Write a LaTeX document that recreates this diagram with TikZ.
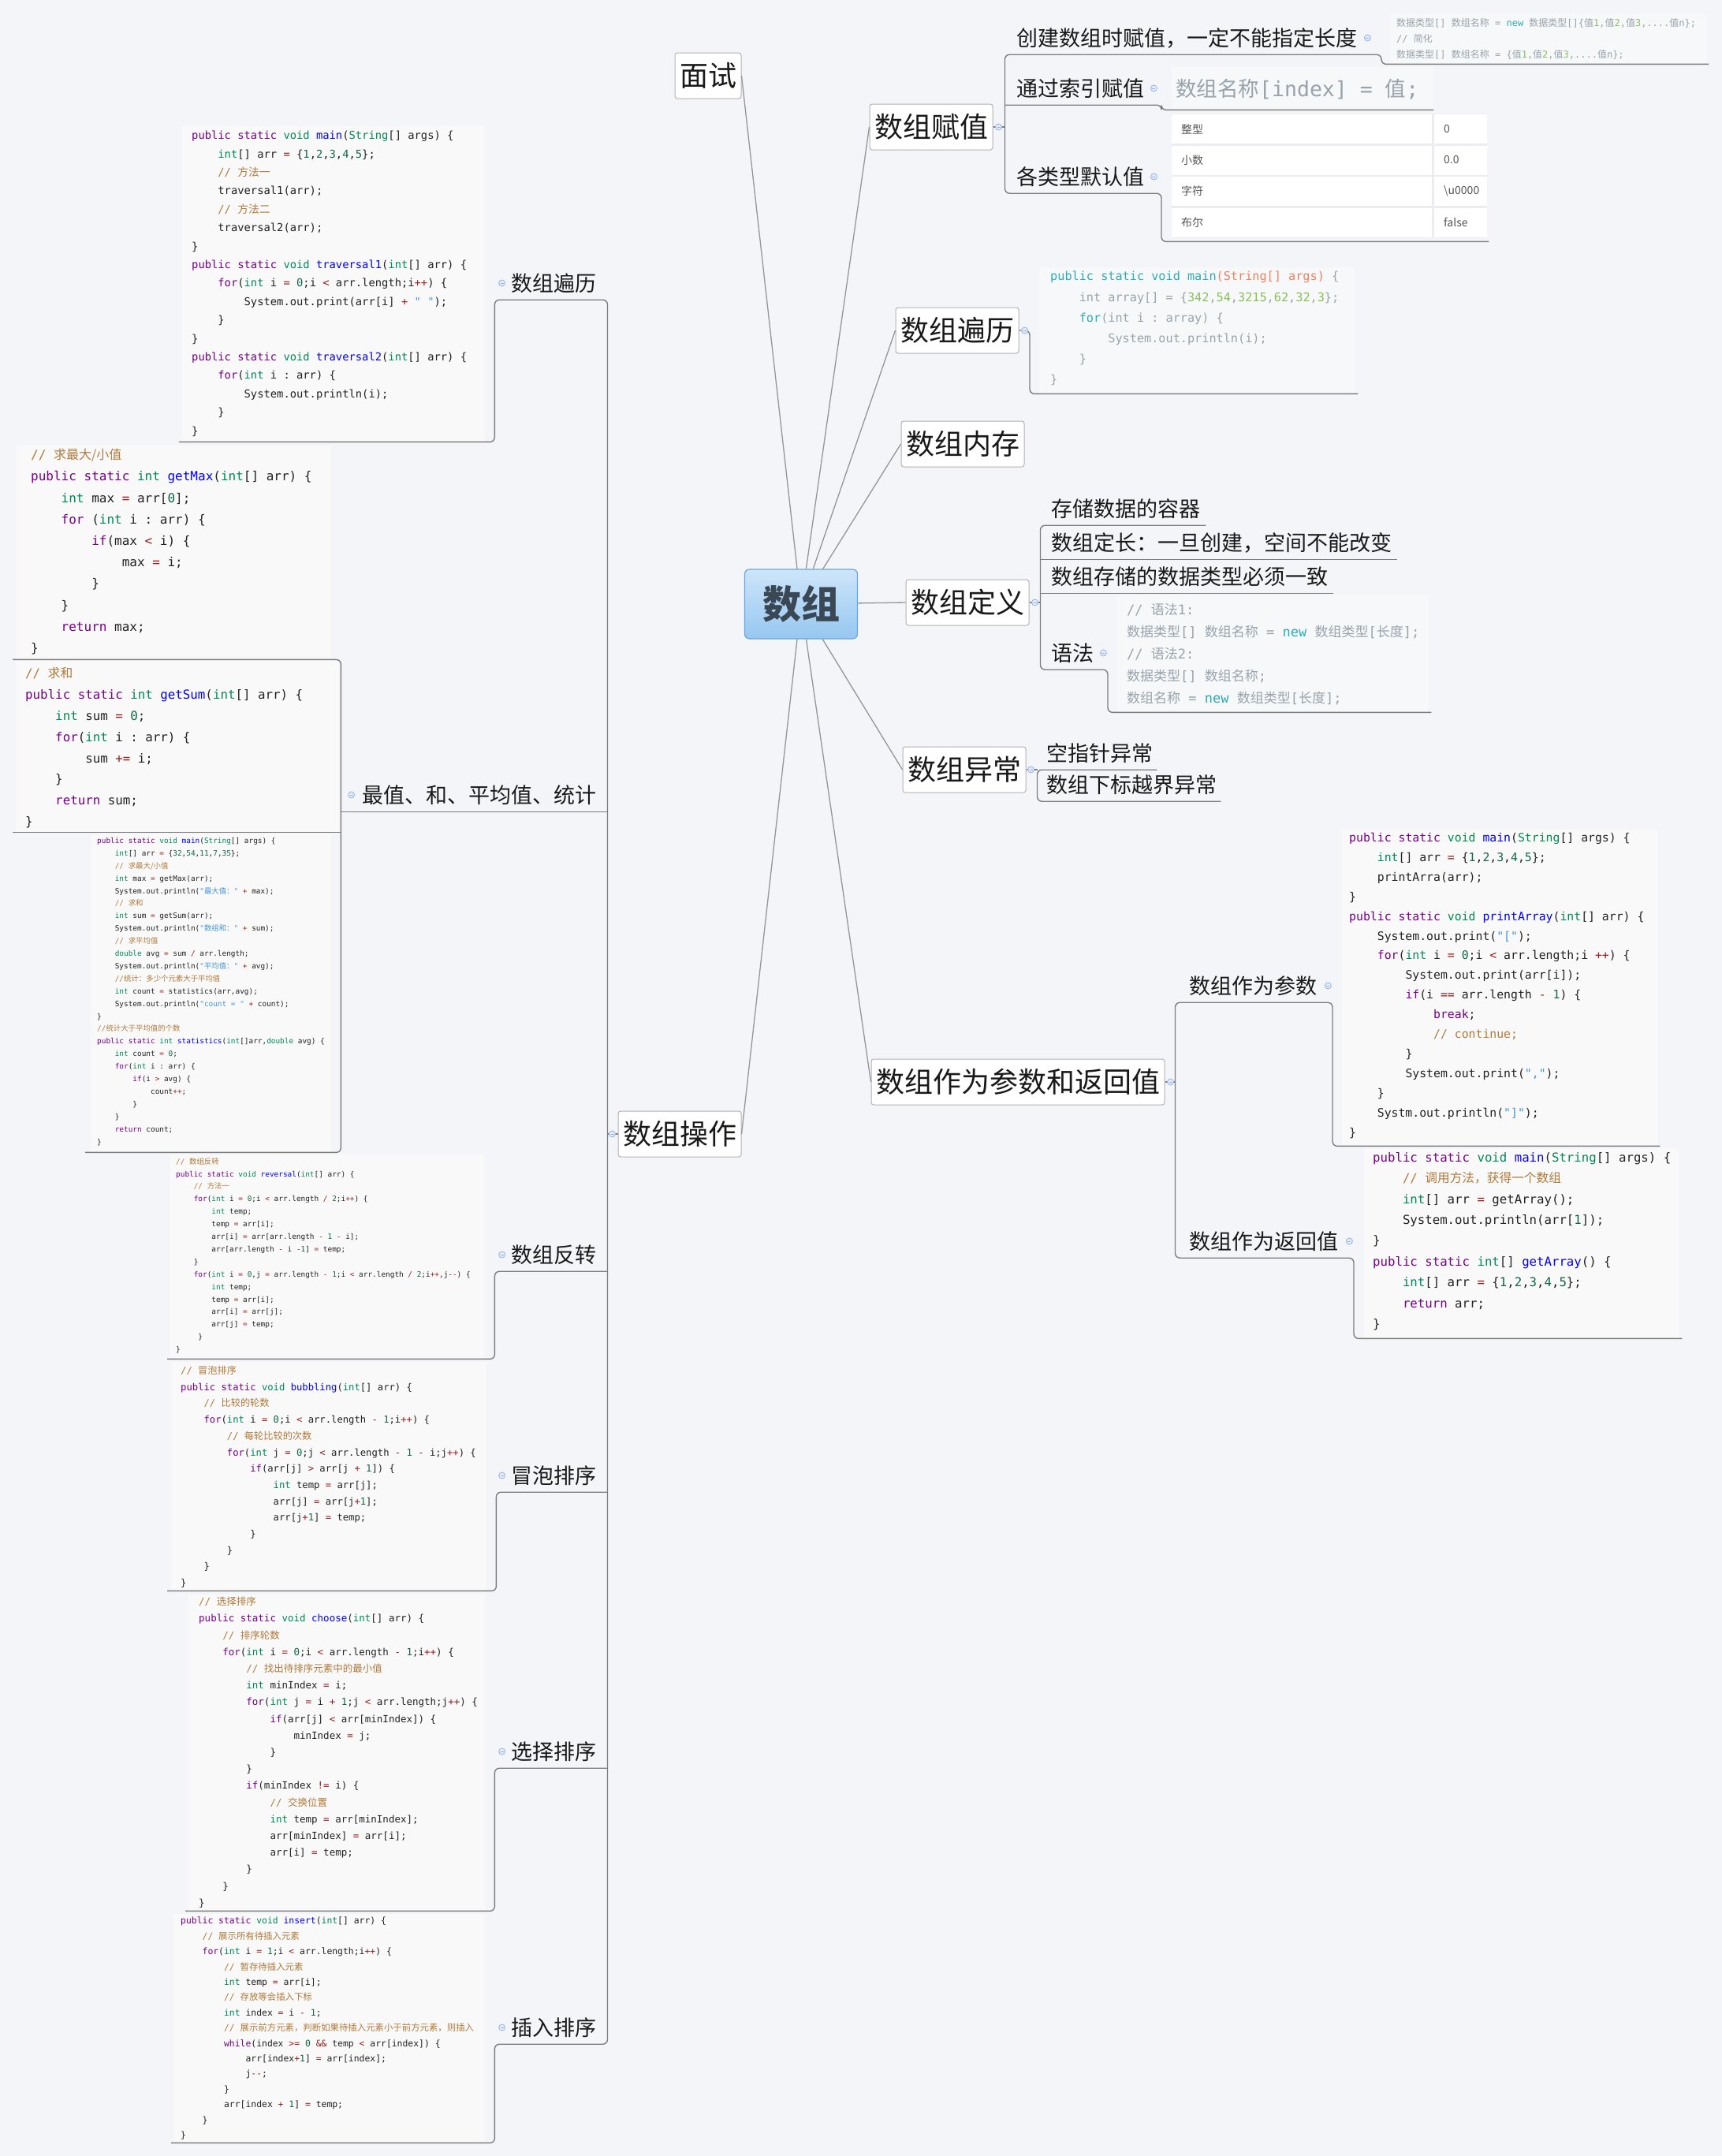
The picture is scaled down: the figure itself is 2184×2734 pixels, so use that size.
\documentclass[tikz,border=0pt]{standalone}
\usepackage{fontspec}
\setmainfont{Noto Sans CJK SC}
\setmonofont{DejaVu Sans Mono}
\newfontfamily\zhfont{Noto Sans CJK SC}

\definecolor{pagebg}{RGB}{243,245,249}
\definecolor{codebg}{RGB}{249,249,250}
\definecolor{graybg}{RGB}{246,248,250}
\definecolor{tblsep}{RGB}{236,237,240}
\definecolor{connc}{RGB}{125,125,125}
\definecolor{rootln}{RGB}{150,150,150}
\definecolor{boxln}{RGB}{178,178,178}
\definecolor{rootA}{RGB}{206,229,250}
\definecolor{rootB}{RGB}{150,199,240}
\definecolor{rootbd}{RGB}{105,165,222}
\definecolor{roottx}{RGB}{58,72,86}
\definecolor{labtx}{RGB}{25,25,25}
\definecolor{mkline}{RGB}{150,180,222}
\definecolor{mkfill}{RGB}{226,236,250}
\definecolor{codetx}{RGB}{34,34,34}
\definecolor{jkc}{RGB}{119,0,136}
\definecolor{jtc}{RGB}{0,136,85}
\definecolor{jfc}{RGB}{0,0,255}
\definecolor{jcc}{RGB}{176,122,58}
\definecolor{jnc}{RGB}{17,102,68}
\definecolor{joc}{RGB}{152,26,26}
\definecolor{jsc}{RGB}{70,150,210}
\definecolor{grtx}{RGB}{152,163,172}
\definecolor{grk}{RGB}{46,170,182}
\definecolor{gro}{RGB}{240,128,96}
\definecolor{grn}{RGB}{140,190,90}
\definecolor{tbltx}{RGB}{85,85,85}

\newcommand\zh[1]{{\zhfont #1}}
\newcommand\ind[1]{\hspace*{#1\fontcharwd\font`0}}
\newcommand\codefont[2]{\ttfamily\fontsize{#1}{#2}\selectfont}
\newcommand\jk[1]{\textcolor{jkc}{#1}}
\newcommand\jt[1]{\textcolor{jtc}{#1}}
\newcommand\jf[1]{\textcolor{jfc}{#1}}
\newcommand\jc[1]{\textcolor{jcc}{#1}}
\newcommand\jn[1]{\textcolor{jnc}{#1}}
\newcommand\jo[1]{\textcolor{joc}{#1}}
\newcommand\js[1]{\textcolor{jsc}{#1}}
\newcommand\xk[1]{\textcolor{grk}{#1}}
\newcommand\xo[1]{\textcolor{gro}{#1}}
\newcommand\xn[1]{\textcolor{grn}{#1}}

\tikzset{
  root/.style={draw=rootbd, line width=1.2pt, top color=rootA, bottom color=rootB,
    rounded corners=6pt, minimum width=143pt, minimum height=88pt, text=roottx,
    font=\bfseries\fontsize{49}{54}\selectfont},
  branch/.style={draw=boxln, line width=1pt, fill=white, rounded corners=3pt,
    inner xsep=6pt, minimum height=58pt, text=labtx, font=\fontsize{36}{40}\selectfont},
  sub/.style={inner sep=0pt, text depth=11pt, text=labtx, font=\fontsize{27}{30}\selectfont},
  codebox/.style={fill=codebg, inner sep=0pt, anchor=north west},
  code/.style={anchor=north west, inner sep=0pt, align=left, text=codetx},
  tbltxt/.style={anchor=west, inner sep=0pt, text=tbltx, font=\fontsize{14}{16}\selectfont},
  conn/.style={draw=connc, line width=1.4pt},
  marker/.style={circle, draw=mkline, fill=mkfill, minimum size=8pt, inner sep=0pt,
    line width=0.8pt, path picture={\draw[mkline, line width=0.8pt]
      ([xshift=-2pt]path picture bounding box.center) --
      ([xshift=2pt]path picture bounding box.center);}},
}

\begin{document}
\begin{tikzpicture}[x=1pt, y=-1pt]
\useasboundingbox (0,0) rectangle (2184,2734);
\fill[pagebg] (0,0) rectangle (2184,2734);

% root and main branches
\node[root] (root) at (1016,766) {数组};
\node[branch] (mianshi) at (898,96) {面试};
\node[branch] (fuzhi) at (1181,161) {数组赋值};
\node[branch] (bianliR) at (1214,419) {数组遍历};
\node[branch] (neicun) at (1221,563) {数组内存};
\node[branch] (dingyi) at (1227,764) {数组定义};
\node[branch] (yichang) at (1223,976) {数组异常};
\node[branch] (canshu) at (1291,1372) {数组作为参数和返回值};
\node[branch] (caozuo) at (862,1438) {数组操作};

\begin{scope}[every edge/.style={draw=rootln, line width=1.3pt}]
  \path (root) edge (mianshi.east);
  \path (root) edge (fuzhi.west);
  \path (root) edge (bianliR.west);
  \path (root) edge (neicun.west);
  \path (root) edge (dingyi.west);
  \path (root) edge (yichang.west);
  \path (root) edge (canshu.west);
  \path (root) edge (caozuo.east);
\end{scope}

% ---- 数组赋值
\node[sub, anchor=base west] (fz1) at (1289,58) {创建数组时赋值，一定不能指定长度};
\node[sub, anchor=base west] (fz2) at (1289,122) {通过索引赋值};
\node[sub, anchor=base west] (fz3) at (1289,234) {各类型默认值};
\node[codebox, fill=graybg, minimum width=401pt, minimum height=64pt] (createBox) at (1763,17) {};
\node[code, text=grtx, font={\codefont{12}{20}}] (createCode) at (1771,23)
  {\zh{数据类型}[] \zh{数组名称} = \xk{new} \zh{数据类型}[]\{\zh{值}\xn{1},\zh{值}\xn{2},\zh{值}\xn{3},....\zh{值}n\};\\
   // \zh{简化}\\
   \zh{数据类型}[] \zh{数组名称} = \{\zh{值}\xn{1},\zh{值}\xn{2},\zh{值}\xn{3},....\zh{值}n\};};
\node[codebox, fill=graybg, minimum width=332pt, minimum height=54pt] (idxBox) at (1486,85) {};
\node[code, text=grtx, font={\codefont{26.5}{30}}] (idxCode) at (1491,100)
  {\zh{数组名称}[index] = \zh{值};};
\node[inner sep=0pt, anchor=north west, minimum width=400pt, minimum height=162pt] (tbl) at (1486,144) {};
\fill[tblsep] (1486,144) rectangle (1886,302);
\foreach \r in {0,...,3} {
  \fill[white] (1486,{145+\r*39.5}) rectangle (1816,{182+\r*39.5});
  \fill[white] (1819,{145+\r*39.5}) rectangle (1886,{182+\r*39.5});
}
\foreach \r/\a/\b in {0/整型/0, 1/小数/0.0, 2/字符/\textbackslash u0000, 3/布尔/false} {
  \node[tbltxt] (tk\r) at (1498,{163.5+\r*39.5}) {\a};
  \node[tbltxt] (tv\r) at (1831,{163.5+\r*39.5}) {\b};
}
\coordinate (fzS) at ([xshift=15pt]fuzhi.east);
\coordinate (createStep) at ([xshift=-11pt]createBox.south west);
\coordinate (idxStep) at ([xshift=-13pt]idxBox.south west);
\coordinate (tblStep) at ([xshift=-13pt]tbl.south west);
\draw[conn] (fuzhi.east) -- (fzS |- fuzhi.east);
\draw[conn, rounded corners=6pt] ([xshift=3pt]createBox.south east) -- (createStep)
  -- (createStep |- fz1.south) -- (fzS |- fz1.south) -- (fzS |- fz3.south)
  -- (tblStep |- fz3.south) -- (tblStep) -- ([xshift=2pt]tbl.south east);
\draw[conn, rounded corners=6pt] (fzS |- fz2.south) -- (idxStep |- fz2.south)
  -- (idxStep) -- (idxBox.south east);

% ---- 数组遍历 (right)
\node[codebox, fill=graybg, minimum width=400pt, minimum height=160pt] (travRBox) at (1318,339) {};
\node[code, text=grtx, font={\codefont{15.2}{26.2}}] (travRCode) at (1332,344)
  {\xk{public static void main}\xo{(String[] args)} \{\\
   \ind{4}int array[] = \{\xn{342},\xn{54},\xn{3215},\xn{62},\xn{32},\xn{3}\};\\
   \ind{4}\xk{for}(int i : array) \{\\
   \ind{8}System.out.println(i);\\
   \ind{4}\}\\
   \}};
\coordinate (trStep) at ([xshift=-12pt]travRBox.south west);
\draw[conn, rounded corners=6pt] (bianliR.east) -- (trStep |- bianliR.east) -- (trStep)
  -- ([xshift=4pt]travRBox.south east);

% ---- 数组定义
\node[sub, anchor=base west] (dy1) at (1333,655) {存储数据的容器};
\node[sub, anchor=base west] (dy2) at (1333,698) {数组定长：一旦创建，空间不能改变};
\node[sub, anchor=base west] (dy3) at (1333,741) {数组存储的数据类型必须一致};
\node[sub, anchor=base west] (dy4) at (1333,838) {语法};
\node[codebox, fill=graybg, minimum width=395pt, minimum height=148pt] (yufaBox) at (1417,755) {};
\node[code, text=grtx, font={\codefont{17}{28}}] (yufaCode) at (1429,765)
  {// \zh{语法}1:\\
   \zh{数据类型}[] \zh{数组名称} = \xk{new} \zh{数组类型}[\zh{长度}];\\
   // \zh{语法}2:\\
   \zh{数据类型}[] \zh{数组名称};\\
   \zh{数组名称} = \xk{new} \zh{数组类型}[\zh{长度}];};
\coordinate (dyS) at ([xshift=14pt]dingyi.east);
\coordinate (yfStep) at ([xshift=-12pt]yufaBox.south west);
\draw[conn] (dingyi.east) -- (dyS |- dingyi.east);
\draw[conn, rounded corners=6pt] ([xshift=7pt]dy1.south east) -- (dyS |- dy1.south)
  -- (dyS |- dy4.south) -- (yfStep |- dy4.south) -- (yfStep) -- ([xshift=3pt]yufaBox.south east);
\draw[conn] (dyS |- dy2.south) -- ([xshift=7pt]dy2.south east);
\draw[conn] (dyS |- dy3.south) -- ([xshift=7pt]dy3.south east);

% ---- 数组异常
\node[sub, anchor=base west] (yc1) at (1327,965) {空指针异常};
\node[sub, anchor=base west] (yc2) at (1327,1005) {数组下标越界异常};
\coordinate (ycS) at ([xshift=14pt]yichang.east);
\draw[conn] (yichang.east) -- (ycS |- yichang.east);
\draw[conn, rounded corners=6pt] ([xshift=5pt]yc1.south east) -- (ycS |- yc1.south)
  -- (ycS |- yc2.south) -- ([xshift=5pt]yc2.south east);

% ---- 数组作为参数和返回值
\node[sub, anchor=base west] (cs1) at (1508,1260) {数组作为参数};
\node[sub, anchor=base west] (cs2) at (1508,1584) {数组作为返回值};
\node[codebox, minimum width=400pt, minimum height=401pt] (p1Box) at (1702,1052) {};
\node[code, font={\codefont{14.8}{24.9}}] (p1Code) at (1711,1056)
  {\jk{public} \jk{static} \jt{void} \jf{main}(\jt{String}[] args) \{\\
   \ind{4}\jt{int}[] arr \jo{=} \{\jn{1},\jn{2},\jn{3},\jn{4},\jn{5}\};\\
   \ind{4}printArra(arr);\\
   \}\\
   \jk{public} \jk{static} \jt{void} \jf{printArray}(\jt{int}[] arr) \{\\
   \ind{4}System.out.print(\js{"["});\\
   \ind{4}\jk{for}(\jt{int} i \jo{=} \jn{0};i \jo{<} arr.length;i \jo{++}) \{\\
   \ind{8}System.out.print(arr[i]);\\
   \ind{8}\jk{if}(i \jo{==} arr.length \jo{-} \jn{1}) \{\\
   \ind{12}\jk{break};\\
   \ind{12}\jc{// continue;}\\
   \ind{8}\}\\
   \ind{8}System.out.print(\js{","});\\
   \ind{4}\}\\
   \ind{4}Systm.out.println(\js{"]"});\\
   \}};
\node[codebox, minimum width=399pt, minimum height=241pt] (p2Box) at (1730,1456) {};
\node[code, font={\codefont{15.7}{26.4}}] (p2Code) at (1741,1461)
  {\jk{public} \jk{static} \jt{void} \jf{main}(\jt{String}[] args) \{\\
   \ind{4}\jc{// \zh{调用方法，获得一个数组}}\\
   \ind{4}\jt{int}[] arr \jo{=} getArray();\\
   \ind{4}System.out.println(arr[\jn{1}]);\\
   \}\\
   \jk{public} \jk{static} \jt{int}[] \jf{getArray}() \{\\
   \ind{4}\jt{int}[] arr \jo{=} \{\jn{1},\jn{2},\jn{3},\jn{4},\jn{5}\};\\
   \ind{4}\jk{return} arr;\\
   \}};
\coordinate (csS) at ([xshift=13pt]canshu.east);
\coordinate (p1Step) at ([xshift=-12pt]p1Box.south west);
\coordinate (p2Step) at ([xshift=-13pt]p2Box.south west);
\draw[conn] (canshu.east) -- (csS |- canshu.east);
\draw[conn, rounded corners=6pt] ([xshift=3pt]p1Box.south east) -- (p1Step) -- (p1Step |- cs1.south)
  -- (csS |- cs1.south) -- (csS |- cs2.south) -- (p2Step |- cs2.south) -- (p2Step)
  -- ([xshift=4pt]p2Box.south east);

% ---- 数组操作 (left)
\node[sub, anchor=base east] (op1) at (757,369) {数组遍历};
\node[sub, anchor=base east] (op2) at (757,1018) {最值、和、平均值、统计};
\node[sub, anchor=base east] (op3) at (757,1601) {数组反转};
\node[sub, anchor=base east] (op4) at (757,1881) {冒泡排序};
\node[sub, anchor=base east] (op5) at (757,2231) {选择排序};
\node[sub, anchor=base east] (op6) at (757,2581) {插入排序};

\node[codebox, minimum width=385pt, minimum height=400pt] (travLBox) at (230,160) {};
\node[code, font={\codefont{13.8}{23.4}}] (travLCode) at (243,166)
  {\jk{public} \jk{static} \jt{void} \jf{main}(\jt{String}[] args) \{\\
   \ind{4}\jt{int}[] arr \jo{=} \{\jn{1},\jn{2},\jn{3},\jn{4},\jn{5}\};\\
   \ind{4}\jc{// \zh{方法一}}\\
   \ind{4}traversal1(arr);\\
   \ind{4}\jc{// \zh{方法二}}\\
   \ind{4}traversal2(arr);\\
   \}\\
   \jk{public} \jk{static} \jt{void} \jf{traversal1}(\jt{int}[] arr) \{\\
   \ind{4}\jk{for}(\jt{int} i \jo{=} \jn{0};i \jo{<} arr.length;i\jo{++}) \{\\
   \ind{8}System.out.print(arr[i] \jo{+} \js{" "});\\
   \ind{4}\}\\
   \}\\
   \jk{public} \jk{static} \jt{void} \jf{traversal2}(\jt{int}[] arr) \{\\
   \ind{4}\jk{for}(\jt{int} i : arr) \{\\
   \ind{8}System.out.println(i);\\
   \ind{4}\}\\
   \}};

\node[codebox, minimum width=400pt, minimum height=271pt] (maxBox) at (20,565) {};
\node[code, font={\codefont{16}{27.2}}] (maxCode) at (39,569)
  {\jc{// \zh{求最大/小值}}\\
   \jk{public} \jk{static} \jt{int} \jf{getMax}(\jt{int}[] arr) \{\\
   \ind{4}\jt{int} max \jo{=} arr[\jn{0}];\\
   \ind{4}\jk{for} (\jt{int} i : arr) \{\\
   \ind{8}\jk{if}(max \jo{<} i) \{\\
   \ind{12}max \jo{=} i;\\
   \ind{8}\}\\
   \ind{4}\}\\
   \ind{4}\jk{return} max;\\
   \}};
\node[codebox, minimum width=410pt, minimum height=217pt] (sumBox) at (20,838) {};
\node[code, font={\codefont{15.8}{26.9}}] (sumCode) at (32,846)
  {\jc{// \zh{求和}}\\
   \jk{public} \jk{static} \jt{int} \jf{getSum}(\jt{int}[] arr) \{\\
   \ind{4}\jt{int} sum \jo{=} \jn{0};\\
   \ind{4}\jk{for}(\jt{int} i : arr) \{\\
   \ind{8}sum \jo{+=} i;\\
   \ind{4}\}\\
   \ind{4}\jk{return} sum;\\
   \}};
\node[codebox, minimum width=305pt, minimum height=404pt] (statBox) at (115,1057) {};
\node[code, font={\codefont{9.4}{15.9}}] (statCode) at (123,1062)
  {\jk{public} \jk{static} \jt{void} \jf{main}(\jt{String}[] args) \{\\
   \ind{4}\jt{int}[] arr \jo{=} \{\jn{32},\jn{54},\jn{11},\jn{7},\jn{35}\};\\
   \ind{4}\jc{// \zh{求最大/小值}}\\
   \ind{4}\jt{int} max \jo{=} getMax(arr);\\
   \ind{4}System.out.println(\js{"\zh{最大值：}"} \jo{+} max);\\
   \ind{4}\jc{// \zh{求和}}\\
   \ind{4}\jt{int} sum \jo{=} getSum(arr);\\
   \ind{4}System.out.println(\js{"\zh{数组和：}"} \jo{+} sum);\\
   \ind{4}\jc{// \zh{求平均值}}\\
   \ind{4}\jt{double} avg \jo{=} sum \jo{/} arr.length;\\
   \ind{4}System.out.println(\js{"\zh{平均值：}"} \jo{+} avg);\\
   \ind{4}\jc{//\zh{统计：多少个元素大于平均值}}\\
   \ind{4}\jt{int} count \jo{=} statistics(arr,avg);\\
   \ind{4}System.out.println(\js{"count = "} \jo{+} count);\\
   \}\\
   \jc{//\zh{统计大于平均值的个数}}\\
   \jk{public} \jk{static} \jt{int} \jf{statistics}(\jt{int}[]arr,\jt{double} avg) \{\\
   \ind{4}\jt{int} count \jo{=} \jn{0};\\
   \ind{4}\jk{for}(\jt{int} i : arr) \{\\
   \ind{8}\jk{if}(i \jo{>} avg) \{\\
   \ind{12}count\jo{++};\\
   \ind{8}\}\\
   \ind{4}\}\\
   \ind{4}\jk{return} count;\\
   \}};

\node[codebox, minimum width=400pt, minimum height=259pt] (revBox) at (215,1464) {};
\node[code, font={\codefont{9.4}{15.9}}] (revCode) at (223,1468)
  {\jc{// \zh{数组反转}}\\
   \jk{public} \jk{static} \jt{void} \jf{reversal}(\jt{int}[] arr) \{\\
   \ind{4}\jc{// \zh{方法一}}\\
   \ind{4}\jk{for}(\jt{int} i \jo{=} \jn{0};i \jo{<} arr.length \jo{/} \jn{2};i\jo{++}) \{\\
   \ind{8}\jt{int} temp;\\
   \ind{8}temp \jo{=} arr[i];\\
   \ind{8}arr[i] \jo{=} arr[arr.length \jo{-} \jn{1} \jo{-} i];\\
   \ind{8}arr[arr.length \jo{-} i \jo{-}\jn{1}] \jo{=} temp;\\
   \ind{4}\}\\
   \ind{4}\jk{for}(\jt{int} i \jo{=} \jn{0},j \jo{=} arr.length \jo{-} \jn{1};i \jo{<} arr.length \jo{/} \jn{2};i\jo{++},j\jo{--}) \{\\
   \ind{8}\jt{int} temp;\\
   \ind{8}temp \jo{=} arr[i];\\
   \ind{8}arr[i] \jo{=} arr[j];\\
   \ind{8}arr[j] \jo{=} temp;\\
   \ind{5}\}\\
   \}};

\node[codebox, minimum width=400pt, minimum height=290pt] (bubBox) at (217,1727) {};
\node[code, font={\codefont{12.2}{20.7}}] (bubCode) at (229,1732)
  {\jc{// \zh{冒泡排序}}\\
   \jk{public} \jk{static} \jt{void} \jf{bubbling}(\jt{int}[] arr) \{\\
   \ind{4}\jc{// \zh{比较的轮数}}\\
   \ind{4}\jk{for}(\jt{int} i \jo{=} \jn{0};i \jo{<} arr.length \jo{-} \jn{1};i\jo{++}) \{\\
   \ind{8}\jc{// \zh{每轮比较的次数}}\\
   \ind{8}\jk{for}(\jt{int} j \jo{=} \jn{0};j \jo{<} arr.length \jo{-} \jn{1} \jo{-} i;j\jo{++}) \{\\
   \ind{12}\jk{if}(arr[j] \jo{>} arr[j \jo{+} \jn{1}]) \{\\
   \ind{16}\jt{int} temp \jo{=} arr[j];\\
   \ind{16}arr[j] \jo{=} arr[j\jo{+}\jn{1}];\\
   \ind{16}arr[j\jo{+}\jn{1}] \jo{=} temp;\\
   \ind{12}\}\\
   \ind{8}\}\\
   \ind{4}\}\\
   \}};

\node[codebox, minimum width=376pt, minimum height=401pt] (choBox) at (239,2022) {};
\node[code, font={\codefont{12.5}{21.2}}] (choCode) at (252,2025)
  {\jc{// \zh{选择排序}}\\
   \jk{public} \jk{static} \jt{void} \jf{choose}(\jt{int}[] arr) \{\\
   \ind{4}\jc{// \zh{排序轮数}}\\
   \ind{4}\jk{for}(\jt{int} i \jo{=} \jn{0};i \jo{<} arr.length \jo{-} \jn{1};i\jo{++}) \{\\
   \ind{8}\jc{// \zh{找出待排序元素中的最小值}}\\
   \ind{8}\jt{int} minIndex \jo{=} i;\\
   \ind{8}\jk{for}(\jt{int} j \jo{=} i \jo{+} \jn{1};j \jo{<} arr.length;j\jo{++}) \{\\
   \ind{12}\jk{if}(arr[j] \jo{<} arr[minIndex]) \{\\
   \ind{16}minIndex \jo{=} j;\\
   \ind{12}\}\\
   \ind{8}\}\\
   \ind{8}\jk{if}(minIndex \jo{!=} i) \{\\
   \ind{12}\jc{// \zh{交换位置}}\\
   \ind{12}\jt{int} temp \jo{=} arr[minIndex];\\
   \ind{12}arr[minIndex] \jo{=} arr[i];\\
   \ind{12}arr[i] \jo{=} temp;\\
   \ind{8}\}\\
   \ind{4}\}\\
   \}};

\node[codebox, minimum width=395pt, minimum height=290pt] (insBox) at (220,2427) {};
\node[code, font={\codefont{11.4}{19.4}}] (insCode) at (229,2431)
  {\jk{public} \jk{static} \jt{void} \jf{insert}(\jt{int}[] arr) \{\\
   \ind{4}\jc{// \zh{展示所有待插入元素}}\\
   \ind{4}\jk{for}(\jt{int} i \jo{=} \jn{1};i \jo{<} arr.length;i\jo{++}) \{\\
   \ind{8}\jc{// \zh{暂存待插入元素}}\\
   \ind{8}\jt{int} temp \jo{=} arr[i];\\
   \ind{8}\jc{// \zh{存放等会插入下标}}\\
   \ind{8}\jt{int} index \jo{=} i \jo{-} \jn{1};\\
   \ind{8}\jc{// \zh{展示前方元素，判断如果待插入元素小于前方元素，则插入}}\\
   \ind{8}\jk{while}(index \jo{>=} \jn{0} \jo{\&\&} temp \jo{<} arr[index]) \{\\
   \ind{12}arr[index\jo{+}\jn{1}] \jo{=} arr[index];\\
   \ind{12}j\jo{--};\\
   \ind{8}\}\\
   \ind{8}arr[index \jo{+} \jn{1}] \jo{=} temp;\\
   \ind{4}\}\\
   \}};

\coordinate (opS) at ([xshift=-13pt]caozuo.west);
\coordinate (zS) at ([xshift=12pt]maxBox.south east);
\coordinate (tlStep) at ([xshift=12pt]travLBox.south east);
\coordinate (revStep) at ([xshift=12pt]revBox.south east);
\coordinate (bubStep) at ([xshift=12pt]bubBox.south east);
\coordinate (choStep) at ([xshift=12pt]choBox.south east);
\coordinate (insStep) at ([xshift=12pt]insBox.south east);
\draw[conn] (caozuo.west) -- (opS |- caozuo.west);
\draw[conn, rounded corners=6pt] ([xshift=-3pt]travLBox.south west) -- (tlStep) -- (tlStep |- op1.south)
  -- (opS |- op1.south) -- (opS |- op6.south) -- (insStep |- op6.south) -- (insStep)
  -- ([xshift=-3pt]insBox.south west);
\draw[conn] (opS |- op2.south) -- (zS |- op2.south);
\draw[conn, rounded corners=6pt] ([xshift=-4pt]maxBox.south west) -- (zS) -- (zS |- statBox.south)
  -- ([xshift=-7pt]statBox.south west);
\draw[conn] ([xshift=-4pt]sumBox.south west) -- (zS |- sumBox.south);
\draw[conn, rounded corners=6pt] (opS |- op3.south) -- (revStep |- op3.south) -- (revStep)
  -- ([xshift=-3pt]revBox.south west);
\draw[conn, rounded corners=6pt] (opS |- op4.south) -- (bubStep |- op4.south) -- (bubStep)
  -- ([xshift=-5pt]bubBox.south west);
\draw[conn, rounded corners=6pt] (opS |- op5.south) -- (choStep |- op5.south) -- (choStep)
  -- ([xshift=-4pt]choBox.south west);

% collapse markers
\node[marker] (fuzhiM) at ([xshift=7pt]fuzhi.east) {};
\node[marker] (bianliRM) at ([xshift=7pt]bianliR.east) {};
\node[marker] (dingyiM) at ([xshift=7pt]dingyi.east) {};
\node[marker] (yichangM) at ([xshift=6pt]yichang.east) {};
\node[marker] (canshuM) at ([xshift=7pt]canshu.east) {};
\node[marker] (caozuoM) at ([xshift=-7pt]caozuo.west) {};
\node[marker] (fz1M) at ([shift={(13pt,10pt)}]fz1.base east) {};
\node[marker] (fz2M) at ([shift={(12pt,10pt)}]fz2.base east) {};
\node[marker] (fz3M) at ([shift={(12pt,10pt)}]fz3.base east) {};
\node[marker] (dy4M) at ([shift={(12pt,10pt)}]dy4.base east) {};
\node[marker] (cs1M) at ([shift={(14pt,10pt)}]cs1.base east) {};
\node[marker] (cs2M) at ([shift={(14pt,10pt)}]cs2.base east) {};
\node[marker] (op1M) at ([shift={(-12pt,10pt)}]op1.base west) {};
\node[marker] (op2M) at ([shift={(-14pt,10pt)}]op2.base west) {};
\node[marker] (op3M) at ([shift={(-12pt,10pt)}]op3.base west) {};
\node[marker] (op4M) at ([shift={(-12pt,10pt)}]op4.base west) {};
\node[marker] (op5M) at ([shift={(-12pt,10pt)}]op5.base west) {};
\node[marker] (op6M) at ([shift={(-12pt,10pt)}]op6.base west) {};

\end{tikzpicture}
\end{document}
